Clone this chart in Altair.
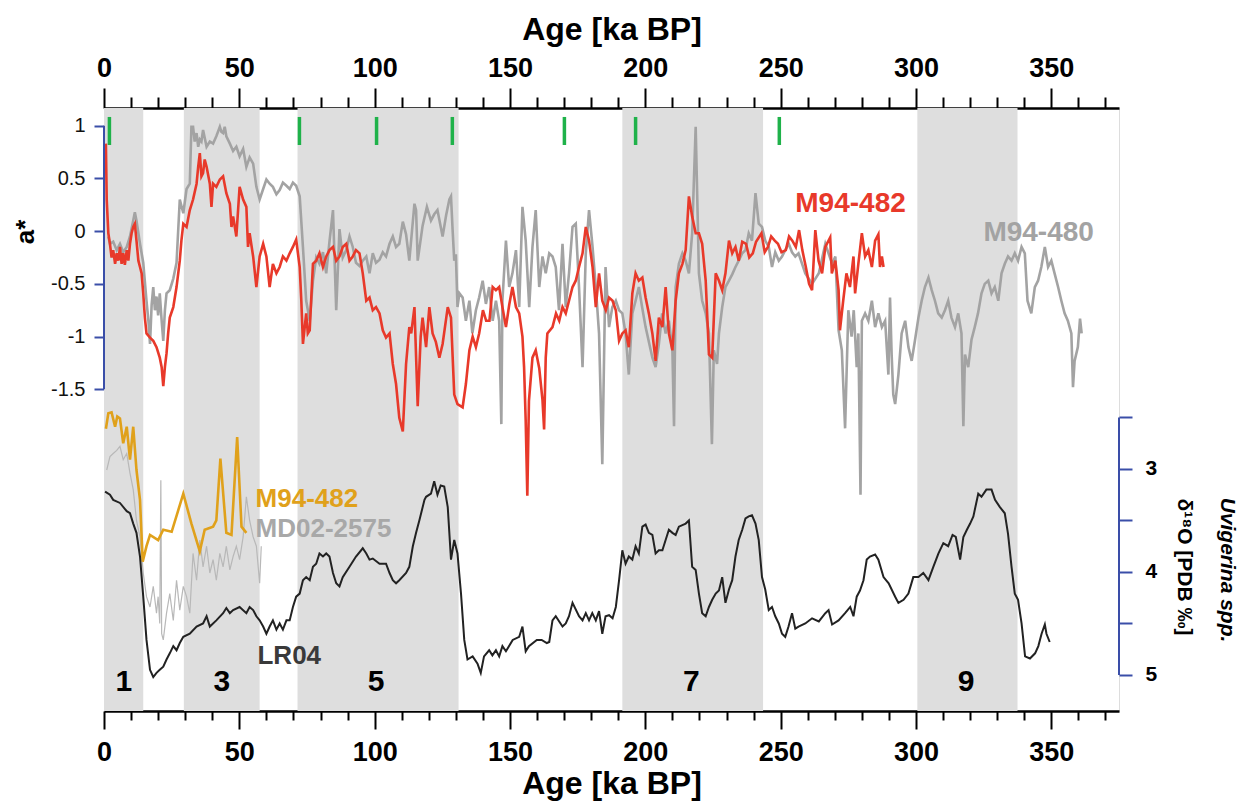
import altair as alt
import pandas as pd

FONT = "Liberation Sans"
W, H = 1015, 603
BLUE = "#3a4ea8"

# ---------------- data ----------------
BAND_START = [0, 29.5, 71.5, 191.5, 300.5]
BAND_END = [14.5, 57.5, 131, 243.5, 337.5]
MIS_LABEL = ["1", "3", "5", "7", "9"]
MIS_AGE = [7.3, 43.5, 100.5, 217, 318.5]
MIS_Y = 5.07
GREEN_AGE = [2.0, 72.2, 100.7, 128.7, 170.1, 196.4, 249.5]
GREEN_TOP, GREEN_BOT = 1.083, 0.817

# M94-482 a* (red)
RED = [(0.7,0.83),(1.0,0.30),(1.6,-0.02),(2.2,-0.12),(2.8,-0.25),(3.4,-0.18),(4.1,-0.31),(4.7,-0.21),(5.3,-0.28),(5.9,-0.15),(6.5,-0.31),(7.1,-0.21),(7.7,-0.32),(8.4,-0.18),(9.0,-0.28),(9.6,-0.12),(10.2,-0.02),(10.8,0.04),(11.4,0.07),(12.0,-0.09),(12.7,-0.28),(13.3,-0.34),(13.9,-0.40),(14.5,-0.59),(15.1,-0.82),(15.7,-0.97),(17.0,-1.01),(18.2,-1.04),(19.4,-1.10),(20.6,-1.20),(21.3,-1.29),(21.9,-1.47),(22.5,-1.29),(23.1,-1.16),(23.7,-0.97),(24.3,-0.82),(25.6,-0.72),(26.8,-0.53),(28.0,-0.28),(28.6,-0.09),(29.3,0.07),(30.5,0.04),(31.7,0.20),(32.9,0.30),(34.2,0.45),(34.8,0.61),(35.4,0.74),(36.0,0.52),(36.6,0.55),(37.2,0.68),(37.9,0.61),(39.1,0.45),(39.7,0.23),(40.3,0.45),(41.5,0.42),(42.8,0.49),(44.0,0.52),(45.2,0.36),(46.5,0.26),(47.1,0.04),(47.7,0.14),(48.9,-0.05),(50.1,0.42),(51.4,0.30),(52.6,0.23),(53.2,-0.15),(53.8,-0.02),(55.1,-0.24),(56.3,-0.53),(57.5,-0.24),(58.8,-0.12),(60.0,-0.24),(61.2,-0.53),(62.4,-0.31),(63.7,-0.40),(64.9,-0.34),(66.1,-0.24),(67.4,-0.28),(68.6,-0.21),(69.8,-0.15),(71.0,-0.08),(72.3,-0.34),(72.9,-0.66),(73.5,-1.07),(74.7,-0.78),(75.3,-0.97),(76.0,-0.94),(77.2,-0.31),(78.4,-0.28),(79.6,-0.21),(80.9,-0.34),(82.1,-0.24),(83.3,-0.18),(84.6,-0.15),(85.8,-0.28),(87.0,-0.24),(88.2,-0.15),(89.5,-0.12),(90.7,-0.28),(91.9,-0.24),(93.1,-0.18),(94.4,-0.21),(95.6,-0.40),(96.9,-0.66),(98.1,-0.63),(99.3,-0.75),(100.5,-0.72),(101.8,-0.78),(103.0,-0.94),(104.2,-1.01),(105.5,-0.97),(106.7,-1.26),(107.9,-1.45),(109.1,-1.77),(110.4,-1.90),(111.6,-1.26),(112.8,-0.91),(113.5,-0.97),(114.7,-0.72),(115.9,-1.66),(117.0,-1.00),(117.7,-0.82),(119.0,-1.10),(120.2,-0.72),(121.4,-0.97),(122.6,-1.05),(123.9,-1.20),(125.1,-1.07),(127.0,-0.72),(128.2,-0.82),(129.4,-1.55),(130.6,-1.64),(132.5,-1.67),(133.7,-1.45),(135.0,-1.13),(136.2,-1.00),(137.4,-1.10),(138.6,-0.97),(140.0,-0.75),(141.2,-0.85),(142.4,-0.85),(143.6,-0.53),(144.8,-0.56),(146.0,-0.53),(147.2,-0.72),(148.5,-0.91),(149.7,-0.70),(150.9,-0.53),(152.2,-0.72),(153.4,-0.78),(154.6,-1.00),(155.2,-1.29),(155.8,-1.80),(156.4,-2.51),(157.0,-1.61),(158.3,-1.20),(159.5,-1.13),(160.8,-1.30),(162.0,-1.60),(162.6,-1.88),(163.2,-1.20),(163.8,-0.97),(165.7,-0.91),(167.0,-0.78),(168.2,-0.85),(169.4,-0.72),(170.6,-0.78),(171.8,-0.66),(173.1,-0.53),(174.3,-0.47),(175.5,-0.34),(176.8,-0.21),(178.0,0.04),(179.2,-0.09),(180.5,-0.34),(181.7,-0.72),(182.9,-0.40),(184.1,-0.66),(185.4,-0.75),(186.6,-0.63),(187.9,-0.66),(189.1,-0.75),(190.3,-1.04),(191.5,-0.97),(192.7,-0.94),(193.9,-1.10),(195.2,-0.59),(196.4,-0.40),(197.6,-0.47),(198.9,-0.44),(200.1,-0.63),(201.3,-0.78),(202.6,-0.97),(203.8,-1.23),(205.0,-0.82),(206.3,-0.91),(207.5,-0.53),(208.7,-0.97),(210.0,-1.13),(211.2,-0.66),(212.4,-0.40),(213.7,-0.31),(214.9,-0.18),(216.1,0.33),(217.3,0.14),(218.6,-0.02),(219.8,-0.02),(221.0,-0.12),(222.3,-0.47),(223.5,-1.17),(224.7,-1.20),(226.0,-0.40),(227.2,-0.47),(228.4,-0.56),(229.6,-0.40),(230.9,-0.09),(232.1,-0.21),(233.3,-0.15),(234.5,-0.28),(235.8,-0.10),(237.2,-0.12),(238.4,-0.25),(239.7,-0.21),(240.9,-0.10),(242.9,-0.02),(244.1,-0.20),(245.3,-0.15),(246.5,-0.05),(247.8,-0.09),(249.0,-0.12),(250.3,-0.20),(251.9,-0.18),(253.1,-0.05),(254.3,-0.09),(255.6,-0.15),(256.8,0.01),(258.0,-0.18),(259.3,-0.34),(260.5,-0.50),(261.6,-0.56),(262.8,0.01),(264.0,-0.28),(265.3,-0.40),(266.5,-0.15),(268.3,-0.06),(268.9,-0.40),(270.2,-0.28),(271.4,-0.56),(271.9,-0.94),(273.1,-0.66),(274.3,-0.40),(275.6,-0.53),(276.9,-0.24),(277.5,-0.59),(278.7,-0.31),(280.0,-0.02),(281.2,-0.24),(282.4,-0.18),(283.7,-0.34),(284.9,-0.09),(286.1,-0.03),(286.7,-0.34),(287.4,-0.24),(288.0,-0.34)]

# M94-480 a* (grey)
GREY = [(1.6,-0.05),(2.2,-0.12),(3.4,-0.10),(4.7,-0.18),(5.9,-0.12),(7.1,-0.20),(8.4,-0.15),(9.6,-0.05),(10.8,0.10),(11.4,0.18),(12.0,0.10),(13.3,-0.12),(14.5,-0.30),(15.7,-0.66),(16.4,-0.85),(17.0,-1.07),(17.6,-0.70),(18.2,-0.53),(18.8,-0.75),(19.4,-0.62),(20.0,-0.80),(20.6,-0.59),(21.3,-0.85),(21.9,-1.04),(22.5,-0.75),(23.1,-0.59),(24.3,-0.56),(25.6,-0.45),(26.8,-0.30),(28.0,0.30),(29.3,0.17),(30.5,0.40),(31.7,0.45),(32.3,0.99),(32.9,0.99),(33.5,0.85),(34.2,0.93),(34.8,0.80),(35.4,0.87),(36.0,0.85),(36.6,0.96),(37.9,0.80),(39.1,0.85),(40.3,0.83),(41.5,0.90),(42.8,0.99),(43.4,0.94),(44.0,0.93),(44.6,0.99),(45.2,0.90),(46.5,0.83),(47.7,0.76),(48.9,0.80),(50.1,0.71),(51.4,0.78),(52.6,0.61),(53.8,0.70),(55.1,0.64),(56.3,0.42),(57.5,0.30),(58.8,0.40),(60.0,0.49),(61.2,0.45),(62.4,0.42),(63.7,0.35),(64.9,0.39),(66.1,0.46),(67.4,0.43),(68.6,0.40),(69.8,0.46),(71.0,0.43),(72.3,0.33),(73.5,-0.15),(74.7,-0.66),(76.0,-0.85),(77.2,-0.47),(78.4,-0.25),(79.6,-0.31),(80.9,-0.20),(82.1,-0.40),(83.3,-0.10),(84.6,0.20),(85.8,-0.75),(87.0,0.02),(88.2,-0.25),(89.5,-0.18),(90.7,-0.05),(91.9,-0.15),(93.1,-0.30),(94.4,-0.33),(95.6,-0.28),(96.9,-0.24),(98.1,-0.40),(99.3,-0.21),(100.5,-0.30),(101.8,-0.27),(103.0,-0.20),(104.2,-0.24),(105.5,-0.12),(106.7,-0.05),(107.9,-0.15),(109.1,-0.12),(110.4,0.09),(111.6,-0.03),(112.8,-0.28),(114.7,0.26),(115.3,0.20),(115.9,-0.28),(117.7,0.05),(119.3,0.23),(120.8,0.10),(122.0,0.16),(123.2,0.20),(125.1,-0.05),(126.4,0.15),(127.6,0.30),(128.2,0.33),(128.8,0.01),(129.4,-0.28),(130.0,-0.22),(130.6,-0.72),(131.3,-0.59),(132.5,-0.63),(133.7,-0.85),(135.0,-0.66),(136.1,-0.97),(137.4,-0.75),(138.6,-0.63),(139.9,-0.47),(141.1,-0.69),(142.3,-0.53),(143.6,-0.85),(144.8,-0.66),(146.0,-0.85),(146.8,-1.83),(147.2,-0.66),(148.5,-0.09),(149.7,-0.53),(150.9,-0.40),(152.2,-0.18),(153.4,-0.72),(154.6,0.23),(155.8,-0.09),(157.1,-0.72),(158.3,-0.15),(159.5,0.20),(160.8,-0.53),(162.0,-0.24),(163.2,-0.40),(164.5,-0.21),(165.7,-0.24),(166.9,-0.34),(168.1,-0.75),(169.4,-0.12),(170.6,-0.72),(171.8,-0.40),(173.1,0.04),(174.3,0.07),(175.5,-0.53),(176.8,-1.29),(178.0,-0.21),(179.2,0.20),(180.5,-0.15),(181.7,-0.53),(182.9,-0.97),(184.1,-2.21),(185.3,-0.34),(186.6,-0.91),(187.8,-0.72),(189.1,-0.66),(190.3,-0.75),(191.5,-0.78),(192.7,-0.97),(193.9,-1.36),(195.2,-0.78),(196.4,-0.66),(197.6,-0.53),(198.8,-0.72),(200.1,-0.91),(202.6,-1.20),(203.8,-1.29),(205.0,-1.07),(206.2,-0.78),(207.5,-0.97),(208.7,-0.85),(210.0,-1.13),(210.6,-1.85),(211.2,-0.53),(212.4,-0.31),(213.7,-0.21),(214.9,-0.28),(216.1,-0.40),(217.3,-0.02),(218.6,0.99),(219.2,0.30),(219.8,-0.40),(221.0,-0.66),(222.3,-0.78),(223.5,-0.97),(224.6,-2.02),(225.3,-1.13),(226.5,-1.26),(227.2,-0.97),(228.4,-0.72),(229.6,-0.53),(230.9,-0.47),(232.1,-0.41),(233.3,-0.34),(234.5,-0.28),(235.8,-0.21),(237.0,-0.18),(238.2,-0.02),(239.4,-0.09),(240.7,0.36),(241.9,0.07),(243.1,0.04),(244.3,-0.09),(245.6,-0.15),(246.8,-0.34),(248.0,-0.20),(249.3,-0.28),(250.5,-0.24),(251.7,-0.18),(253.0,-0.12),(254.2,-0.20),(255.4,-0.24),(256.6,-0.21),(259.1,-0.40),(261.6,-0.50),(264.1,-0.40),(266.5,-0.12),(269.0,-0.31),(270.2,-0.24),(271.4,-0.94),(272.6,-1.13),(273.8,-1.87),(275.0,-0.75),(276.2,-1.00),(277.0,-0.75),(278.1,-1.29),(278.7,-0.97),(279.5,-2.50),(280.0,-0.85),(281.2,-0.78),(282.4,-0.85),(283.7,-0.66),(284.9,-0.91),(286.1,-0.78),(287.4,-0.91),(288.6,-0.85),(289.8,-1.36),(290.4,-0.63),(291.0,-1.17),(291.6,-1.55),(292.3,-1.64),(293.5,-1.36),(294.7,-0.97),(296.0,-0.85),(297.2,-1.10),(298.4,-1.23),(299.6,-1.04),(300.9,-0.82),(302.1,-0.66),(303.3,-0.53),(304.6,-0.44),(305.8,-0.56),(307.0,-0.66),(308.2,-0.78),(309.5,-0.82),(310.7,-0.75),(311.9,-0.66),(313.1,-0.82),(314.4,-0.91),(315.6,-0.78),(316.8,-0.97),(317.5,-1.85),(318.1,-1.17),(319.3,-1.29),(320.5,-1.03),(321.7,-0.91),(322.9,-0.78),(324.2,-0.59),(325.4,-0.50),(326.7,-0.47),(327.9,-0.59),(329.1,-0.53),(330.4,-0.66),(331.6,-0.40),(332.8,-0.31),(334.0,-0.24),(335.3,-0.28),(336.5,-0.21),(337.7,-0.28),(339.0,-0.15),(340.2,-0.21),(341.2,-0.66),(342.6,-0.78),(343.9,-0.53),(345.1,-0.47),(346.3,-0.34),(347.6,-0.15),(348.8,-0.34),(350.0,-0.28),(351.2,-0.40),(352.5,-0.53),(353.7,-0.66),(354.9,-0.78),(356.1,-0.85),(357.4,-0.97),(358.0,-1.48),(358.6,-1.23),(359.8,-1.10),(360.6,-0.83),(361.2,-0.97)]

# LR04 d18O stack (black)
LR04 = [(0.4,3.22),(2.2,3.25),(3.4,3.30),(5.9,3.33),(8.4,3.41),(9.6,3.43),(10.8,3.53),(12.0,3.62),(13.3,3.85),(14.5,4.24),(15.7,4.66),(17.0,4.95),(18.2,5.02),(19.4,4.98),(20.6,4.95),(21.9,4.92),(23.1,4.85),(24.3,4.79),(25.6,4.72),(26.8,4.76),(28.0,4.69),(29.3,4.63),(31.7,4.60),(34.2,4.53),(36.6,4.50),(37.9,4.43),(39.1,4.53),(41.5,4.47),(44.0,4.40),(45.2,4.35),(46.5,4.40),(47.7,4.37),(50.1,4.34),(52.6,4.40),(53.8,4.34),(55.1,4.37),(56.3,4.43),(57.5,4.47),(58.8,4.53),(60.0,4.60),(61.2,4.53),(62.4,4.47),(63.7,4.56),(64.9,4.50),(66.1,4.56),(67.4,4.47),(68.6,4.47),(69.8,4.34),(71.0,4.24),(72.3,4.21),(73.5,4.08),(74.7,4.05),(76.0,4.08),(77.2,3.95),(78.4,3.92),(79.6,3.82),(80.9,3.85),(82.1,3.82),(83.3,3.85),(84.6,4.01),(85.8,4.11),(87.0,4.14),(88.2,4.05),(90.7,3.95),(93.1,3.85),(95.6,3.77),(96.9,3.82),(98.1,3.88),(99.3,3.87),(101.8,3.92),(104.2,3.92),(105.5,4.01),(106.7,4.08),(107.9,4.11),(109.1,4.08),(111.6,4.01),(112.8,3.95),(114.1,3.75),(115.3,3.62),(116.5,3.50),(118.4,3.30),(119.0,3.27),(120.8,3.24),(122.0,3.12),(123.2,3.25),(124.4,3.16),(125.7,3.17),(127.0,3.37),(128.2,3.88),(129.4,3.69),(130.6,3.82),(131.9,4.21),(133.1,4.66),(134.3,4.85),(136.2,4.82),(138.0,4.89),(139.2,4.98),(140.4,4.82),(142.3,4.76),(143.5,4.81),(144.8,4.76),(146.0,4.82),(147.2,4.72),(148.5,4.77),(151.0,4.66),(153.4,4.63),(154.6,4.53),(155.8,4.77),(157.0,4.72),(159.9,4.66),(161.7,4.66),(163.6,4.69),(164.5,4.68),(165.7,4.47),(166.9,4.43),(169.4,4.53),(170.6,4.50),(171.8,4.43),(173.1,4.30),(175.5,4.43),(176.8,4.47),(178.0,4.40),(179.2,4.47),(180.4,4.40),(181.7,4.47),(182.9,4.38),(184.1,4.60),(185.3,4.43),(186.6,4.42),(187.9,4.45),(189.1,4.34),(190.3,4.08),(191.5,3.79),(192.7,3.92),(193.9,3.85),(195.2,3.88),(196.4,3.75),(197.6,3.82),(198.9,3.56),(200.1,3.54),(201.3,3.62),(202.6,3.64),(203.8,3.82),(205.0,3.79),(206.3,3.79),(207.5,3.69),(208.7,3.59),(210.0,3.62),(211.2,3.64),(212.4,3.56),(214.9,3.53),(216.1,3.50),(217.3,3.95),(218.6,3.98),(219.8,4.21),(221.0,4.40),(222.3,4.43),(223.5,4.34),(224.7,4.27),(226.0,4.21),(227.2,4.18),(228.4,4.05),(229.6,4.30),(230.9,4.17),(232.1,4.08),(233.3,3.85),(234.5,3.69),(235.8,3.59),(237.0,3.48),(238.2,3.46),(239.4,3.45),(240.7,3.53),(241.9,3.69),(243.1,4.05),(244.3,4.17),(245.6,4.37),(246.8,4.34),(248.0,4.43),(249.3,4.50),(250.5,4.60),(251.7,4.63),(252.9,4.53),(254.2,4.40),(255.4,4.55),(256.6,4.53),(259.1,4.50),(261.6,4.45),(264.1,4.48),(266.5,4.40),(267.7,4.37),(269.0,4.51),(271.4,4.47),(273.8,4.40),(275.7,4.34),(276.9,4.43),(278.1,4.24),(279.3,4.18),(280.6,4.08),(281.8,3.88),(283.0,3.85),(284.9,3.83),(286.1,3.88),(288.0,4.05),(289.9,4.11),(292.3,4.24),(293.5,4.30),(295.4,4.27),(297.2,4.21),(299.0,4.05),(300.9,4.05),(302.7,4.01),(304.6,4.08),(306.4,3.95),(308.3,3.82),(310.1,3.72),(311.9,3.75),(313.5,3.64),(314.7,3.66),(316.3,3.88),(317.5,3.66),(318.8,3.59),(320.0,3.53),(321.2,3.46),(323.0,3.24),(324.2,3.27),(326.0,3.20),(327.9,3.20),(329.2,3.30),(331.0,3.37),(332.8,3.43),(334.0,3.63),(335.3,3.95),(336.5,4.21),(337.7,4.27),(339.0,4.50),(340.3,4.82),(342.1,4.84),(344.0,4.79),(345.2,4.72),(346.4,4.60),(347.6,4.51),(348.2,4.60),(349.4,4.68)]

# M94-482 Uvigerina d18O (orange)
ORANGE = [(0.7,2.61),(1.6,2.46),(2.8,2.45),(4.1,2.59),(4.9,2.49),(5.9,2.51),(7.1,2.75),(8.4,2.59),(9.6,2.91),(10.8,2.59),(12.0,3.01),(13.3,3.30),(14.3,3.90),(15.7,3.75),(17.0,3.64),(20.0,3.69),(21.9,3.59),(25.0,3.61),(29.3,3.24),(32.3,3.53),(35.4,3.80),(37.2,3.59),(40.3,3.56),(41.5,3.50),(43.0,2.90),(45.2,3.62),(47.1,3.64),(49.2,2.69),(50.8,3.56),(52.6,3.62)]

# MD02-2575 d18O (light grey)
MD02 = [(1.0,3.01),(2.2,2.88),(3.4,2.85),(4.7,2.82),(5.9,2.78),(7.1,2.91),(8.4,2.85),(9.6,3.04),(10.8,3.20),(12.0,3.50),(13.3,3.66),(14.5,4.01),(15.7,4.24),(17.0,4.34),(18.2,4.14),(19.4,4.40),(20.0,4.24),(20.6,4.50),(21.0,3.11),(21.3,4.60),(21.9,4.66),(23.1,4.40),(24.3,4.21),(25.6,4.47),(26.8,4.08),(28.0,4.37),(29.3,4.14),(30.5,4.24),(31.7,4.40),(32.9,3.82),(34.2,4.08),(35.4,3.69),(36.6,3.95),(37.9,3.75),(39.1,4.01),(40.3,3.88),(41.5,4.08),(42.8,3.82),(44.0,3.95),(45.2,3.75),(46.5,3.98),(47.7,3.85),(48.9,3.75),(50.1,3.88),(51.4,3.66),(52.6,3.27),(53.8,3.50),(55.1,3.66),(56.3,3.75),(57.5,4.11),(58.1,3.75)]

# ---------------- scales & axes ----------------
xs = alt.Scale(domain=[0, 375], nice=False, zero=False)
ys_a = alt.Scale(domain=[-4.551, 1.168], nice=False, zero=False)
ys_d = alt.Scale(domain=[-0.505, 5.350], nice=False, zero=False, reverse=True)

def x_axis(orient, major, minor, lpad, tpad):
    return alt.Axis(
        orient=orient, values=list(range(0, 371, 10)),
        labelExpr="datum.value % 50 === 0 ? datum.label : ''",
        tickSize={"condition": {"test": "datum.value % 50 === 0", "value": major}, "value": minor},
        tickColor="black", tickWidth=2, domainColor="black", domainWidth=2.5,
        labelFont=FONT, labelFontSize=27, labelFontWeight="bold", labelColor="black",
        labelPadding=lpad, labelFlush=False, labelOverlap=False,
        title="Age [ka BP]", titleFont=FONT, titleFontSize=32, titleFontWeight="bold",
        titleColor="black", titlePadding=tpad, grid=False,
    )

ax_top = x_axis("top", 20, 11, 6, 8)
ax_bot = x_axis("bottom", 18, 9, 10, 3)

ay_left = alt.Axis(
    orient="left", values=[-1.5, -1, -0.5, 0, 0.5, 1], labelExpr="toString(datum.value)",
    domain=False, tickColor=BLUE, tickWidth=2, tickSize=10, labelPadding=9,
    labelFont=FONT, labelFontSize=20, labelColor="#111", title=None, grid=False,
)
ay_right = alt.Axis(
    orient="right", values=[2.5, 3, 3.5, 4, 4.5, 5],
    labelExpr="datum.value % 1 === 0 ? toString(datum.value) : ''",
    domain=False, tickColor=BLUE, tickWidth=2, tickSize=13, labelPadding=13,
    labelFont=FONT, labelFontSize=21, labelFontWeight="bold", labelColor="black",
    title=None, grid=False,
)

def df_of(pairs):
    return pd.DataFrame(pairs, columns=["age", "v"])

XA = alt.X("age:Q", scale=xs, axis=ax_top)
YA = alt.Y("v:Q", scale=ys_a, axis=ay_left)
XB = alt.X("age:Q", scale=xs, axis=ax_bot)
YB = alt.Y("v:Q", scale=ys_d, axis=ay_right)

# ---------------- upper (a*) layer ----------------
bands = alt.Chart(pd.DataFrame({"s": BAND_START, "e": BAND_END})).mark_rect(color="#dedede").encode(
    x=alt.X("s:Q", scale=xs, axis=ax_top), x2="e:Q", y=alt.value(0), y2=alt.value(H))

grey_line = alt.Chart(df_of(GREY)).mark_line(color="#a3a3a3", strokeWidth=2.6).encode(x=XA, y=YA)
red_line = alt.Chart(df_of(RED)).mark_line(color="#e8392a", strokeWidth=2.6).encode(x=XA, y=YA)

green = alt.Chart(pd.DataFrame({"age": GREEN_AGE, "v": GREEN_TOP, "v2": GREEN_BOT})).mark_rule(
    color="#1fb24a", strokeWidth=3.5).encode(x=XA, y=YA, y2="v2:Q")

left_line = alt.Chart(pd.DataFrame({"v": [1.0], "v2": [-1.5]})).mark_rule(color=BLUE, strokeWidth=2).encode(
    x=alt.value(0), y=YA, y2="v2:Q")

labels_a = alt.Chart(pd.DataFrame({
    "age": [255.4, 324.9], "v": [0.257, -0.018], "t": ["M94-482", "M94-480"], "c": ["#e8392a", "#a3a3a3"]
})).mark_text(align="left", baseline="middle", font=FONT, fontSize=28, fontWeight="bold").encode(
    x=XA, y=YA, text="t:N", color=alt.Color("c:N", scale=None))

a_title = alt.Chart(pd.DataFrame({"t": ["a*"]})).mark_text(
    angle=270, font=FONT, fontSize=26, fontWeight="bold", color="black", baseline="middle", align="center"
).encode(x=alt.value(-78), y=alt.value(124), text="t:N")

upper = alt.layer(bands, grey_line, red_line, green, left_line, labels_a, a_title)

# ---------------- lower (d18O) layer ----------------
md02_line = alt.Chart(df_of(MD02)).mark_line(color="#b8b8b8", strokeWidth=1.2).encode(x=XB, y=YB)
orange_line = alt.Chart(df_of(ORANGE)).mark_line(color="#e0a11b", strokeWidth=2.6).encode(x=XB, y=YB)
lr04_line = alt.Chart(df_of(LR04)).mark_line(color="#222222", strokeWidth=2).encode(x=XB, y=YB)

labels_b = alt.Chart(pd.DataFrame({
    "age": [56.0, 56.0, 56.7], "v": [3.29, 3.58, 4.82],
    "t": ["M94-482", "MD02-2575", "LR04"], "c": ["#e0a11b", "#a8a8a8", "#3a3a3a"]
})).mark_text(align="left", baseline="middle", font=FONT, fontSize=26, fontWeight="bold").encode(
    x=XB, y=YB, text="t:N", color=alt.Color("c:N", scale=None))

mis = alt.Chart(pd.DataFrame({"age": MIS_AGE, "v": [MIS_Y] * 5, "t": MIS_LABEL})).mark_text(
    align="center", baseline="middle", font=FONT, fontSize=30, fontWeight="bold", color="black"
).encode(x=XB, y=YB, text="t:N")

right_line = alt.Chart(pd.DataFrame({"v": [2.5], "v2": [5.0]})).mark_rule(color=BLUE, strokeWidth=2).encode(
    x=alt.value(W), y=YB, y2="v2:Q")

t1 = alt.Chart(pd.DataFrame({"t": ["Uvigerina spp."]})).mark_text(
    angle=90, font=FONT, fontSize=21, fontWeight="bold", fontStyle="italic", color="black",
    baseline="middle", align="center").encode(x=alt.value(1123), y=alt.value(462), text="t:N")
t2 = alt.Chart(pd.DataFrame({"t": ["δ¹⁸O [PDB ‰]"]})).mark_text(
    angle=90, font=FONT, fontSize=21, fontWeight="bold", color="black",
    baseline="middle", align="center").encode(x=alt.value(1080), y=alt.value(459), text="t:N")

lower = alt.layer(md02_line, orange_line, lr04_line, labels_b, mis, right_line, t1, t2)

chart = alt.layer(upper, lower).resolve_scale(x="independent", y="independent").properties(
    width=W, height=H,
    autosize=alt.AutoSizeParams(type="none"),
    padding={"left": 96, "top": 100, "right": 125, "bottom": 93},
).configure_view(stroke=None).configure(background="white")

chart.save("out.html", embed_options={"renderer": "svg", "actions": False})
